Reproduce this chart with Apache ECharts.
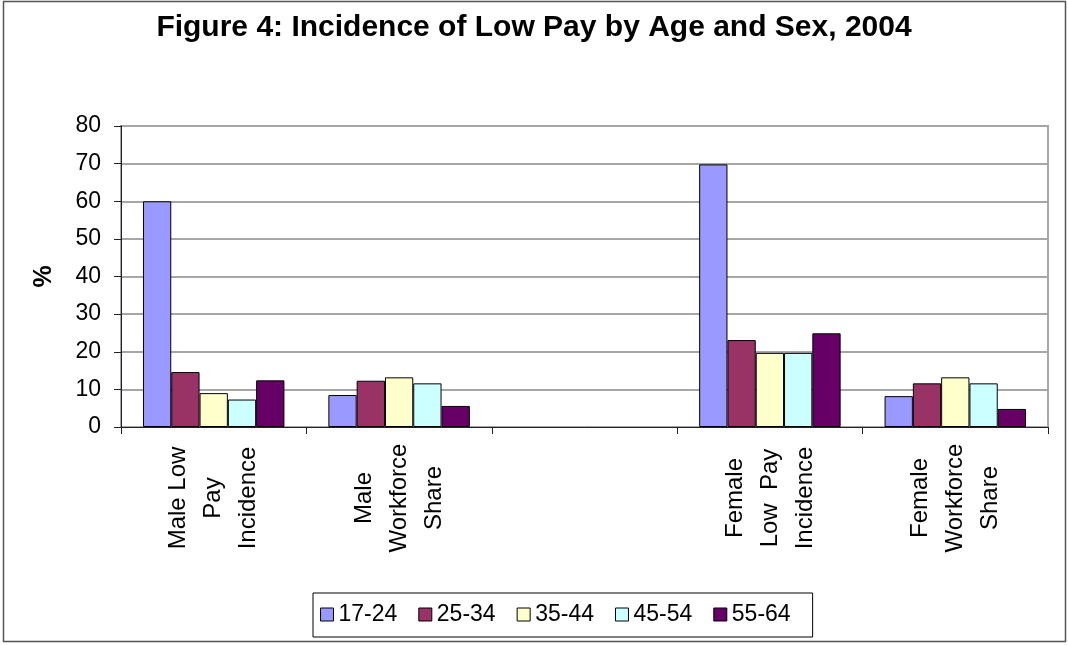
<!DOCTYPE html>
<html>
<head>
<meta charset="utf-8">
<script src="https://cdn.jsdelivr.net/npm/echarts@6/dist/echarts.min.js"></script>
<style>
  html, body { margin: 0; padding: 0; background: #fff; }
  #chart { width: 1068px; height: 645px; }
</style>
</head>
<body>
<div id="chart"></div>
<script>
// Age bands and the groups they are compared across
const ageBands = ['17-24', '25-34', '35-44', '45-54', '55-64'];
const groups = [
  'Male Low\nPay\nIncidence',
  'Male\nWorkforce\nShare',
  '',
  'Female\nLow  Pay\nIncidence',
  'Female\nWorkforce\nShare'
];

// Percent values per age band, one entry per group (blank spacer group is null)
const age17to24 = [60.0, 8.5, null, 69.8, 8.2];
const age25to34 = [14.6, 12.3, null, 23.1, 11.6];
const age35to44 = [9.0, 13.2, null, 19.7, 13.2];
const age45to54 = [7.3, 11.6, null, 19.7, 11.6];
const age55to64 = [12.4, 5.6, null, 24.9, 4.8];

const yTicks = { min: 0, max: 80, interval: 10 };

const seriesValues = [age17to24, age25to34, age35to44, age45to54, age55to64];
const barColors = ['#9999FF', '#993366', '#FFFFCC', '#CCFFFF', '#660066'];

const FONT = '"Liberation Sans", Arial, sans-serif';

const chart = echarts.init(document.getElementById('chart'), null, { renderer: 'canvas' });

chart.setOption({
  backgroundColor: '#fff',
  animation: false,
  textStyle: { fontFamily: FONT },
  title: {
    text: 'Figure 4: Incidence of Low Pay by Age and Sex, 2004',
    left: 'center',
    top: 8,
    textStyle: { fontFamily: FONT, fontSize: 30, fontWeight: 'bold', color: '#000' }
  },
  graphic: [{
    type: 'rect',
    silent: true,
    shape: { x: 3.5, y: 1.5, width: 1062, height: 640 },
    style: { fill: null, stroke: '#555', lineWidth: 1.5 },
    z: 100
  }],
  legend: {
    data: ageBands,
    left: 313,
    top: 593,
    orient: 'horizontal',
    itemWidth: 13,
    itemHeight: 13,
    itemGap: 21,
    padding: [10, 22, 11, 7],
    borderColor: '#000',
    borderWidth: 1,
    icon: 'rect',
    itemStyle: { borderColor: '#000', borderWidth: 1 },
    textStyle: { fontFamily: FONT, fontSize: 23, color: '#000' }
  },
  grid: {
    left: 121,
    right: 20,
    top: 126,
    bottom: 218,
    show: true,
    borderColor: '#a6a6a6',
    borderWidth: 2,
    backgroundColor: 'transparent'
  },
  xAxis: {
    type: 'category',
    data: groups,
    axisLine: { lineStyle: { color: '#222', width: 1 } },
    axisTick: { show: true, length: 7, lineStyle: { color: '#222' } },
    axisLabel: {
      interval: 0,
      rotate: 90,
      align: 'center',
      verticalAlign: 'middle',
      margin: 71,
      fontFamily: FONT,
      fontSize: 24,
      lineHeight: 35,
      color: '#000'
    }
  },
  yAxis: {
    type: 'value',
    min: yTicks.min,
    max: yTicks.max,
    interval: yTicks.interval,
    name: '%',
    nameLocation: 'middle',
    nameRotate: 90,
    nameGap: 64,
    nameTextStyle: { fontFamily: FONT, fontSize: 25, fontWeight: 'bold', color: '#000' },
    axisLine: { show: true, lineStyle: { color: '#222', width: 1 } },
    axisTick: { show: true, length: 7, lineStyle: { color: '#222' } },
    axisLabel: { fontFamily: FONT, fontSize: 23, color: '#000', margin: 20 },
    splitLine: { show: true, lineStyle: { color: '#a6a6a6', width: 2 } }
  },
  series: ageBands.map((name, i) => ({
    name: name,
    type: 'bar',
    data: seriesValues[i],
    barGap: '0%',
    barCategoryGap: '23.7%',
    itemStyle: { color: barColors[i], borderColor: '#000', borderWidth: 1 }
  }))
});
</script>
</body>
</html>
